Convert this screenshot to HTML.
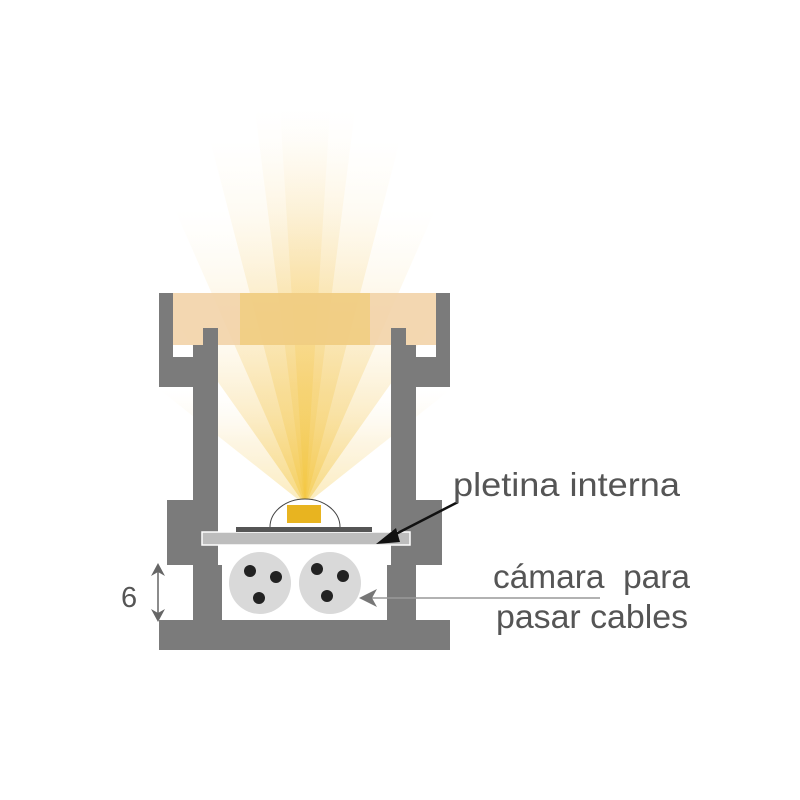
<!DOCTYPE html>
<html><head><style>
body{margin:0;background:#fff;}
svg{display:block;}
text{font-family:"Liberation Sans",sans-serif;fill:#555;}
</style></head><body>
<svg width="800" height="800" viewBox="0 0 800 800">
<defs>
<linearGradient id="fade" x1="0" y1="1" x2="0" y2="0">
<stop offset="0" stop-color="#f3c63a" stop-opacity="0.5"/>
<stop offset="0.55" stop-color="#f6d27a" stop-opacity="0.3"/>
<stop offset="1" stop-color="#fbe9c0" stop-opacity="0"/>
</linearGradient>
</defs>
<g fill="url(#fade)">
<polygon points="305,505 255,110 355,110"/>
<polygon points="305,505 210,140 400,140"/>
<polygon points="305,505 175,210 435,210"/>
<polygon points="305,505 160,300 450,300"/>
<polygon points="305,505 160,390 450,390" opacity="0.7"/>
<polygon points="305,505 280,110 330,110"/>
</g>
<rect x="173" y="293" width="263" height="52" fill="#f2d3a8" opacity="0.9"/>
<rect x="240" y="293" width="130" height="52" fill="#f0c860" opacity="0.5"/>
<g fill="#7b7b7b">
<rect x="159" y="293" width="14" height="94"/>
<rect x="159" y="357" width="59" height="30"/>
<rect x="203" y="328" width="15" height="30"/>
<rect x="193" y="345" width="25" height="305"/>
<rect x="167" y="500" width="51" height="65"/>
<rect x="193" y="565" width="29" height="60"/>
<rect x="436" y="293" width="14" height="94"/>
<rect x="391" y="357" width="59" height="30"/>
<rect x="391" y="328" width="15" height="30"/>
<rect x="391" y="345" width="25" height="305"/>
<rect x="391" y="500" width="51" height="65"/>
<rect x="387" y="565" width="29" height="60"/>
<rect x="159" y="620" width="291" height="30"/>
</g>
<rect x="222" y="545" width="165" height="75" fill="#fff"/>
<rect x="202" y="532" width="208" height="13" fill="#bdbdbd" stroke="#fff" stroke-width="1.5"/>
<rect x="236" y="527" width="136" height="5" fill="#555"/>
<path d="M270,527 A35,28 0 0 1 340,527" fill="#fff" stroke="#444" stroke-width="1"/>
<rect x="287" y="505" width="34" height="18" fill="#e8b420"/>
<circle cx="260" cy="583" r="31" fill="#d9d9d9"/>
<circle cx="330" cy="583" r="31" fill="#d9d9d9"/>
<g fill="#222">
<circle cx="250" cy="571" r="6"/><circle cx="276" cy="577" r="6"/><circle cx="259" cy="598" r="6"/>
<circle cx="317" cy="569" r="6"/><circle cx="343" cy="576" r="6"/><circle cx="327" cy="596" r="6"/>
</g>
<line x1="458" y1="502" x2="390" y2="537" stroke="#111" stroke-width="2.5"/>
<polygon points="376,544 396,528 400,542" fill="#111"/>
<line x1="372" y1="598" x2="600" y2="598" stroke="#999" stroke-width="1.5"/>
<polygon points="359,598 377,589 372,598 377,607" fill="#777"/>
<line x1="158" y1="570" x2="158" y2="616" stroke="#666" stroke-width="1.5"/>
<polygon points="158,563 151,576 158,572 165,576" fill="#666"/>
<polygon points="158,622 151,609 158,613 165,609" fill="#666"/>
<text x="453" y="496" font-size="33" textLength="227" lengthAdjust="spacingAndGlyphs">pletina interna</text>
<text x="493" y="588" font-size="33" textLength="197" lengthAdjust="spacingAndGlyphs" xml:space="preserve">cámara  para</text>
<text x="496" y="628" font-size="33" textLength="192" lengthAdjust="spacingAndGlyphs">pasar cables</text>
<text x="121" y="607" font-size="29">6</text>
</svg>
</body></html>
